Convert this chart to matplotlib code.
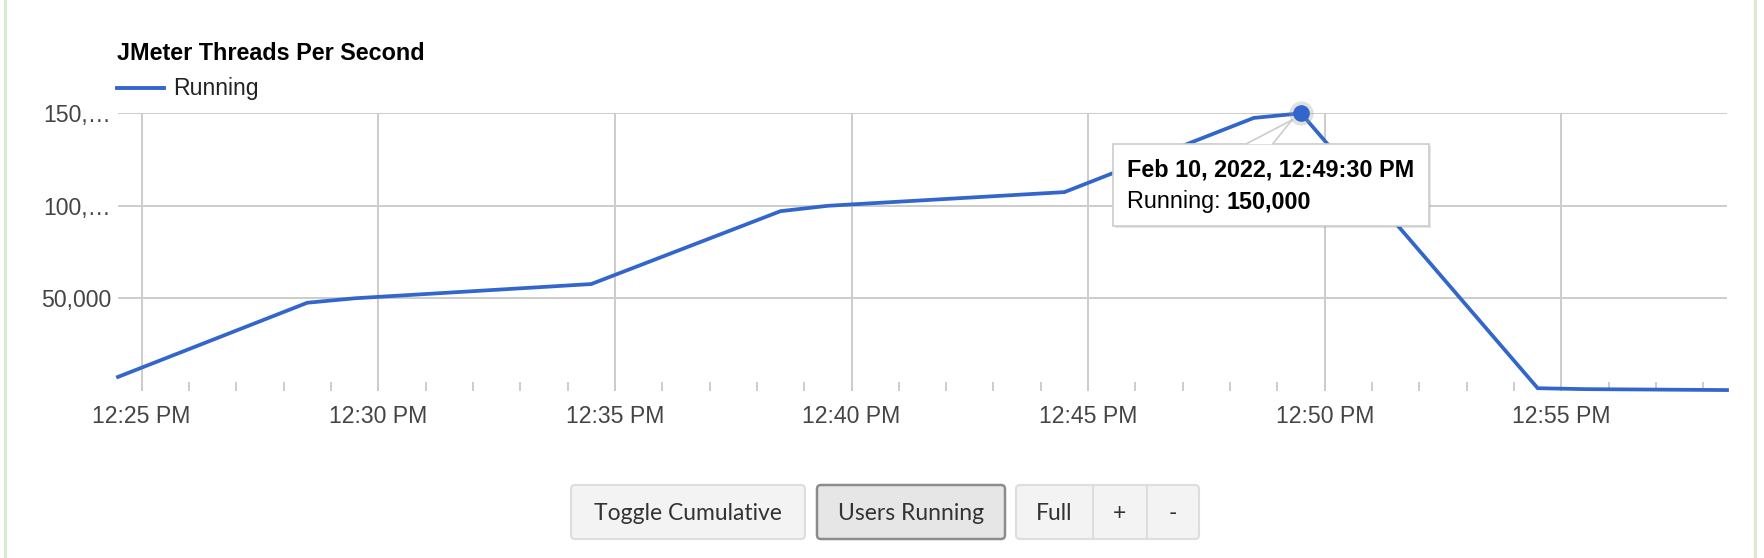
import matplotlib
matplotlib.use("Agg")
import matplotlib.pyplot as plt
import matplotlib.dates as mdates
from matplotlib.patches import FancyBboxPatch, Polygon, Rectangle
from matplotlib.lines import Line2D
import matplotlib.transforms as mtransforms
from datetime import datetime, timedelta

# ---------------- data ----------------
chart_title = "JMeter Threads Per Second"
series_name = "Running"
date_str = "2022-02-10"
times = ["12:24:30", "12:28:30", "12:29:30", "12:34:30", "12:38:30", "12:39:30",
         "12:44:30", "12:48:30", "12:49:30", "12:54:30", "12:55:30", "12:58:30"]
running = [7500, 47600, 50000, 57700, 97100, 100000,
           107400, 147500, 150000, 1400, 900, 400]
y_ticks = [50000, 100000, 150000]
y_tick_labels = ["50,000", "100,\u2026", "150,\u2026"]
buttons = ["Toggle Cumulative", "Users Running"]
zoom_buttons = ["Full", "+", "-"]

# ---------------- figure ----------------
W, H = 1764, 558
DPI = 100
fig = plt.figure(figsize=(W / DPI, H / DPI), dpi=DPI, facecolor="white")
FONT = "Liberation Sans"
plt.rcParams["font.family"] = [FONT, "DejaVu Sans"]

# pixel transform (origin top-left, y down)
PX = mtransforms.Affine2D().scale(1, -1).translate(0, H)

xs = [datetime.strptime(date_str + " " + t, "%Y-%m-%d %H:%M:%S") for t in times]

ax_l, ax_r, ax_t, ax_b = 118, 1727, 113.3, 390.8
ax = fig.add_axes([ax_l / W, 1 - ax_b / H, (ax_r - ax_l) / W, (ax_b - ax_t) / H])
ax.set_facecolor("white")
for s in ax.spines.values():
    s.set_visible(False)

blue = "#3366cc"
grid_c = "#cccccc"
ax.plot(xs, running, color=blue, lw=2.7, solid_joinstyle="miter", clip_on=False, zorder=3)

ax.set_xlim(xs[0], xs[-1])
ax.set_ylim(0, 150000)

start = xs[0].replace(second=0)
major = []
minor = []
t = start.replace(minute=(start.minute // 5) * 5)
while t <= xs[-1]:
    if t >= xs[0]:
        (major if t.minute % 5 == 0 else minor).append(t)
    t += timedelta(minutes=1)

def fmt_time(d):
    h = d.hour % 12 or 12
    return f"{h}:{d.minute:02d} {'PM' if d.hour >= 12 else 'AM'}"

ax.set_xticks([mdates.date2num(d) for d in major])
ax.set_xticklabels([fmt_time(d) for d in major])
ax.set_xticks([mdates.date2num(d) for d in minor], minor=True)
ax.set_yticks(y_ticks)
ax.set_yticklabels(y_tick_labels)

ax.grid(True, which="major", color=grid_c, lw=1.4, zorder=0)
ax.set_axisbelow(True)
ax.tick_params(axis="x", which="both", direction="in", length=6.5, width=1.4,
               color=grid_c, labelsize=16.6, labelcolor="#444444", pad=10)
ax.tick_params(axis="y", which="both", length=0, labelsize=16.6,
               labelcolor="#444444", pad=5)
for lab in ax.get_xticklabels() + ax.get_yticklabels():
    lab.set_fontfamily(FONT)

# peak marker
ipk = max(range(len(running)), key=lambda i: running[i])
ax.plot([xs[ipk]], [running[ipk]], "o", ms=17.5, color="#9a9a9a", alpha=0.3,
        mec="none", clip_on=False, zorder=12)
ax.plot([xs[ipk]], [running[ipk]], "o", ms=12, color=blue, mec="none",
        clip_on=False, zorder=13)

# title and legend
fig.text(117 / W, 1 - 59.5 / H, chart_title, fontsize=16.8, fontweight="bold",
         color="black", va="baseline", ha="left", family=FONT)
fig.add_artist(Line2D([117, 164], [88, 88], color=blue, lw=2.8, transform=PX))
fig.text(173 / W, 1 - 95.5 / H, series_name, fontsize=16.6, color="#222222",
         va="baseline", ha="left", family=FONT)

# tooltip (drawn inside the axes, in pixel coordinates, below the marker)
bx0, bx1, by0, by1 = 1113, 1429, 143.5, 226
ax.add_artist(Rectangle((bx0 + 2, by0 + 2), bx1 - bx0, by1 - by0, transform=PX,
                        facecolor="#000000", alpha=0.10, edgecolor="none", zorder=7, clip_on=False))
ax.add_artist(Rectangle((bx0, by0), bx1 - bx0, by1 - by0, transform=PX,
                        facecolor="white", edgecolor="#cccccc", lw=1.2, zorder=8, clip_on=False))
tip = (1292, 120)
ax.add_artist(Polygon([(1247, by0 + 0.8), tip, (1273, by0 + 0.8)], closed=True,
                      transform=PX, facecolor="white", edgecolor="none", zorder=9, clip_on=False))
ax.add_artist(Line2D([1247, tip[0]], [by0, tip[1]], color="#cccccc", lw=1.2,
                     transform=PX, zorder=9, clip_on=False))
ax.add_artist(Line2D([1273, tip[0]], [by0, tip[1]], color="#cccccc", lw=1.2,
                     transform=PX, zorder=9, clip_on=False))
pk = xs[ipk]
tip_title = (f"{pk.strftime('%b')} {pk.day}, {pk.year}, "
             f"{pk.hour % 12 or 12}:{pk.minute:02d}:{pk.second:02d} {'PM' if pk.hour >= 12 else 'AM'}")
fig.text(1127 / W, 1 - 177 / H, tip_title, fontsize=16.8, fontweight="bold",
         color="black", va="baseline", ha="left", family=FONT, zorder=10)
t1 = fig.text(1127 / W, 1 - 208 / H, series_name + ": ", fontsize=16.8,
              color="black", va="baseline", ha="left", family=FONT, zorder=10)
fig.canvas.draw()
bb = t1.get_window_extent()
fig.text(bb.x1 / W, 1 - 208 / H, f"{running[ipk]:,}", fontsize=16.8, fontweight="bold",
         color="black", va="baseline", ha="left", family=FONT, zorder=10)

# buttons
def button(x0, x1, y0, y1, fc, ec, lw=1.5):
    p = FancyBboxPatch((x0, y0), x1 - x0, y1 - y0, boxstyle="round,pad=0,rounding_size=4",
                       transform=PX, facecolor=fc, edgecolor=ec, lw=lw, zorder=5)
    fig.add_artist(p)

BF = "Lato"
BFS = 16.5
by_0, by_1 = 485, 539
ymid = (by_0 + by_1) / 2 + 1
button(571, 805, by_0, by_1, "#f3f3f3", "#dddddd")
fig.text((571 + 805) / 2 / W, 1 - ymid / H, buttons[0], fontsize=BFS, color="#333333",
         ha="center", va="center", family=BF, zorder=6)
button(817, 1005, by_0, by_1, "#e6e6e6", "#8c8c8c", lw=1.8)
fig.text((817 + 1005) / 2 / W, 1 - ymid / H, buttons[1], fontsize=BFS, color="#333333",
         ha="center", va="center", family=BF, zorder=6)
button(1016, 1199, by_0, by_1, "#f3f3f3", "#dddddd")
divs = [1016, 1093, 1147, 1199]
for xd in divs[1:-1]:
    fig.add_artist(Line2D([xd, xd], [by_0 + 1, by_1 - 1], color="#dddddd", lw=1.5, transform=PX, zorder=6))
for i, lab in enumerate(zoom_buttons):
    fig.text((divs[i] + divs[i + 1]) / 2 / W, 1 - ymid / H, lab, fontsize=BFS,
             color="#333333", ha="center", va="center", family=BF, zorder=7)

# green panel borders
for xb in (5, 1755):
    fig.add_artist(Line2D([xb, xb], [0, H], color="#d9ead3", lw=2.2, transform=PX))

fig.savefig("out.png", dpi=DPI, facecolor="white")
